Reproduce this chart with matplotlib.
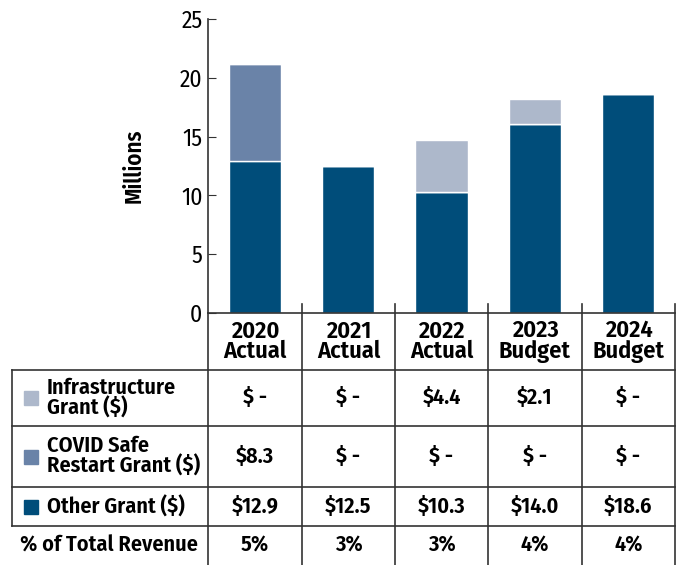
import matplotlib
matplotlib.use("Agg")
import matplotlib.pyplot as plt
from matplotlib.lines import Line2D
from matplotlib.patches import Rectangle
import numpy as np

plt.rcParams['font.family'] = ['Fira Sans Condensed', 'DejaVu Sans']

# data
years = ['2020\nActual', '2021\nActual', '2022\nActual', '2023\nBudget', '2024\nBudget']
other_grant = [12.9, 12.5, 10.3, 16.1, 18.6]
covid_grant = [8.3, 0, 0, 0, 0]
infra_grant = [0, 0, 4.4, 2.1, 0]

row_names = ['Infrastructure\nGrant ($)', 'COVID Safe\nRestart Grant ($)', 'Other Grant ($)']
infra_txt = ['$ -', '$ -', '$4.4', '$2.1', '$ -']
covid_txt = ['$8.3', '$ -', '$ -', '$ -', '$ -']
other_txt = ['$12.9', '$12.5', '$10.3', '$14.0', '$18.6']
pct_txt = ['5%', '3%', '3%', '4%', '4%']

c_other = '#004d7a'
c_covid = '#6a83a8'
c_infra = '#adb8cb'
line_c = '#333333'

W, H = 677, 565
fig = plt.figure(figsize=(6.77, 5.65), dpi=100)

def fx(px):
    return px / W

def fy(py):
    return 1 - py / H

ax_l, ax_r, ax_t, ax_b = 208, 675, 19, 313
ax = fig.add_axes([fx(ax_l), fy(ax_b), fx(ax_r - ax_l), (ax_b - ax_t) / H])

x = np.arange(len(years))
bw = 0.56
ax.bar(x, other_grant, bw, color=c_other, edgecolor='white', linewidth=1)
bot = np.array(other_grant)
ax.bar(x, covid_grant, bw, bottom=bot, color=c_covid, edgecolor='white', linewidth=1)
bot = bot + np.array(covid_grant)
ax.bar(x, infra_grant, bw, bottom=bot, color=c_infra, edgecolor='white', linewidth=1)

ax.set_xlim(-0.5, len(years) - 0.5)
ax.set_ylim(0, 25)
ax.set_yticks([0, 5, 10, 15, 20, 25])
ax.tick_params(axis='y', direction='in', length=6, color=line_c, labelsize=17, pad=4)
ax.set_xticks([])
for s in ['top', 'right']:
    ax.spines[s].set_visible(False)
for s in ['left', 'bottom']:
    ax.spines[s].set_color(line_c)
    ax.spines[s].set_linewidth(1.2)
ax.set_ylabel('Millions', fontsize=16.5, fontweight='semibold', labelpad=25)
ax.patch.set_alpha(0)

# table below the chart
col_edges = [208, 302, 395, 488, 582, 675]
row_edges = [313, 370, 426, 487, 526, 565]
left_x = 12

def hline(y, x0, x1):
    fig.add_artist(Line2D([fx(x0), fx(x1)], [fy(y), fy(y)], color=line_c, lw=1.2))

def vline(xp, y0, y1):
    fig.add_artist(Line2D([fx(xp), fx(xp)], [fy(y0), fy(y1)], color=line_c, lw=1.2))

for y in row_edges[1:5]:
    hline(y, left_x, 675)
for xp in col_edges[1:]:
    vline(xp, 304, 565)
vline(208, 313, 565)
vline(left_x, 370, 526)

centers = [(col_edges[i] + col_edges[i + 1]) / 2 for i in range(len(years))]
for cx, lab in zip(centers, years):
    fig.text(fx(cx), fy(341), lab, ha='center', va='center', fontsize=17.5,
             fontweight='semibold', linespacing=0.85)

rows = [infra_txt, covid_txt, other_txt]
swatch = [c_infra, c_covid, c_other]
for r in range(3):
    yc = (row_edges[r + 1] + row_edges[r + 2]) / 2
    fig.add_artist(Rectangle((fx(24), fy(yc + 7)), 14 / W, 14 / H, color=swatch[r],
                             transform=fig.transFigure))
    fig.text(fx(47), fy(yc), row_names[r], ha='left', va='center', fontsize=16,
             fontweight='semibold', linespacing=0.9)
    for cx, t in zip(centers, rows[r]):
        fig.text(fx(cx), fy(yc), t, ha='center', va='center', fontsize=16,
                 fontweight='semibold')

yc = (row_edges[4] + row_edges[5]) / 2
fig.text(fx(20), fy(yc), '% of Total Revenue', ha='left', va='center', fontsize=16,
         fontweight='semibold')
for cx, t in zip(centers, pct_txt):
    fig.text(fx(cx), fy(yc), t, ha='center', va='center', fontsize=16, fontweight='semibold')

fig.savefig('out.png', dpi=100)
